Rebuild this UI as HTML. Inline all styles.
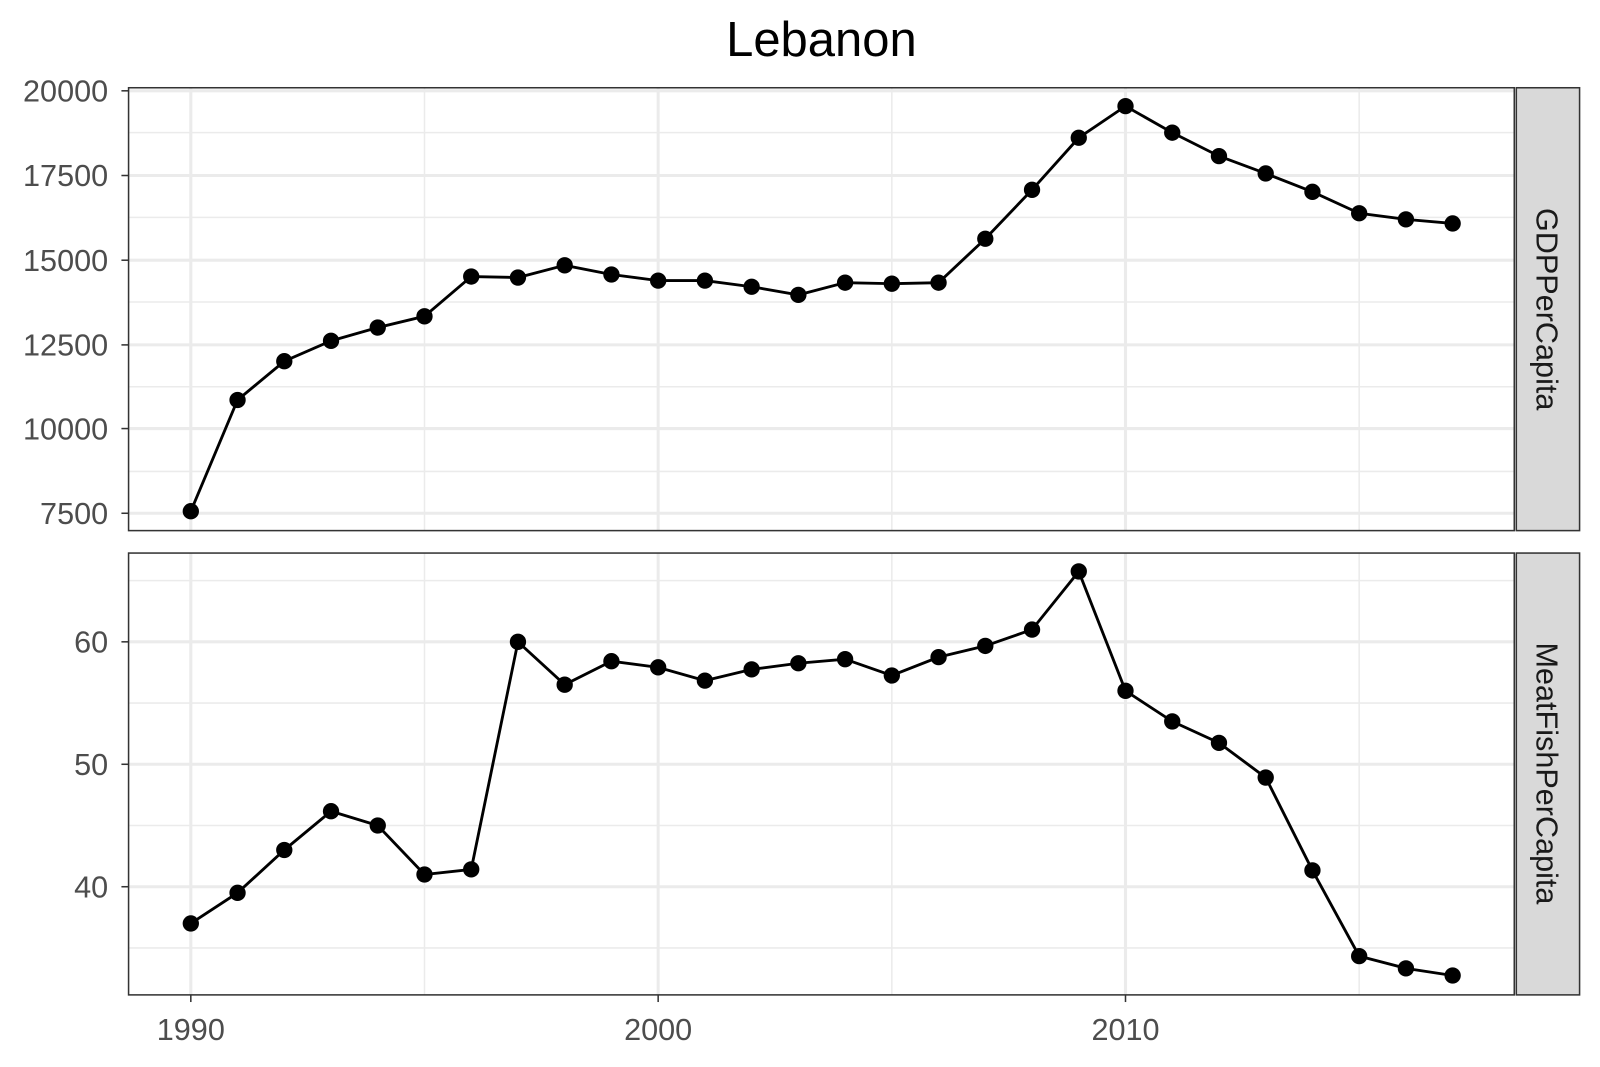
<!DOCTYPE html>
<html><head><meta charset="utf-8"><style>html,body{margin:0;padding:0;overflow:hidden;background:#fff}svg{display:block}</style></head><body>
<svg width="1600" height="1067" xmlns="http://www.w3.org/2000/svg" font-family="Liberation Sans, sans-serif">
<rect width="1600" height="1067" fill="#fff"/>
<g transform="scale(1.0204)">
<text x="805" y="55" font-size="48" text-anchor="middle" fill="#000">Lebanon</text>
<g stroke="#ebebeb" stroke-width="1.5">
<line x1="126" x2="1484" y1="130" y2="130"/><line x1="126" x2="1484" y1="213" y2="213"/><line x1="126" x2="1484" y1="296" y2="296"/><line x1="126" x2="1484" y1="379" y2="379"/><line x1="126" x2="1484" y1="462" y2="462"/>
<line x1="126" x2="1484" y1="569" y2="569"/><line x1="126" x2="1484" y1="689" y2="689"/><line x1="126" x2="1484" y1="809" y2="809"/><line x1="126" x2="1484" y1="929" y2="929"/>
<line x1="416" x2="416" y1="86" y2="520"/><line x1="874" x2="874" y1="86" y2="520"/><line x1="1332" x2="1332" y1="86" y2="520"/>
<line x1="416" x2="416" y1="542" y2="975"/><line x1="874" x2="874" y1="542" y2="975"/><line x1="1332" x2="1332" y1="542" y2="975"/>
</g>
<g stroke="#ebebeb" stroke-width="3">
<line x1="126" x2="1484" y1="89" y2="89"/><line x1="126" x2="1484" y1="172" y2="172"/><line x1="126" x2="1484" y1="255" y2="255"/><line x1="126" x2="1484" y1="338" y2="338"/><line x1="126" x2="1484" y1="420" y2="420"/><line x1="126" x2="1484" y1="503" y2="503"/>
<line x1="126" x2="1484" y1="629" y2="629"/><line x1="126" x2="1484" y1="749" y2="749"/><line x1="126" x2="1484" y1="869" y2="869"/>
<line x1="187" x2="187" y1="86" y2="520"/><line x1="645" x2="645" y1="86" y2="520"/><line x1="1103" x2="1103" y1="86" y2="520"/>
<line x1="187" x2="187" y1="542" y2="975"/><line x1="645" x2="645" y1="542" y2="975"/><line x1="1103" x2="1103" y1="542" y2="975"/>
</g>
<rect x="126" y="86" width="1358" height="434" fill="none" stroke="#333" stroke-width="1.5"/>
<rect x="126" y="542" width="1358" height="433" fill="none" stroke="#333" stroke-width="1.5"/>
<rect x="1486" y="86" width="62" height="434" fill="#d9d9d9" stroke="#333" stroke-width="1.5"/>
<rect x="1486" y="542" width="62" height="433" fill="#d9d9d9" stroke="#333" stroke-width="1.5"/>
<text transform="translate(1506,303) rotate(90)" font-size="30" text-anchor="middle" fill="#1a1a1a">GDPPerCapita</text>
<text transform="translate(1506,758) rotate(90)" font-size="30" text-anchor="middle" fill="#1a1a1a">MeatFishPerCapita</text>
<g font-size="30" fill="#4d4d4d" text-anchor="end">
<text x="106" y="99.5">20000</text><text x="106" y="182.5">17500</text><text x="106" y="265.5">15000</text><text x="106" y="348.5">12500</text><text x="106" y="430.5">10000</text><text x="106" y="513.5">7500</text>
<text x="106" y="639.5">60</text><text x="106" y="759.5">50</text><text x="106" y="879.5">40</text>
</g>
<g font-size="30" fill="#4d4d4d" text-anchor="middle">
<text x="187" y="1019">1990</text><text x="645" y="1019">2000</text><text x="1103" y="1019">2010</text>
</g>
<g stroke="#333" stroke-width="1.5">
<line x1="119" x2="126" y1="89" y2="89"/><line x1="119" x2="126" y1="172" y2="172"/><line x1="119" x2="126" y1="255" y2="255"/><line x1="119" x2="126" y1="338" y2="338"/><line x1="119" x2="126" y1="420" y2="420"/><line x1="119" x2="126" y1="503" y2="503"/>
<line x1="119" x2="126" y1="629" y2="629"/><line x1="119" x2="126" y1="749" y2="749"/><line x1="119" x2="126" y1="869" y2="869"/>
<line x1="187" x2="187" y1="975" y2="982"/><line x1="645" x2="645" y1="975" y2="982"/><line x1="1103" x2="1103" y1="975" y2="982"/>
</g>
<g id="d1"></g>
</g>
<script>
(function(){
var A=[501,392,354,334,321,310,271,272,260,269,275,275,281,289,277,278,277,234,186,135,104,130,153,170,188,209,215,219];
var B=[905,875,833,795,809,857,852,629,671,648,654,667,656,650,646,662,644,633,617,560,677,707,728,762,853,937,949,956];
var g=document.getElementById('d1');var ns='http://www.w3.org/2000/svg';
[A,B].forEach(function(a){var p=document.createElementNS(ns,'polyline');
p.setAttribute('points',a.map(function(y,i){return (187+45.8*i)+','+y;}).join(' '));
p.setAttribute('fill','none');p.setAttribute('stroke','#000');p.setAttribute('stroke-width','2.8');g.appendChild(p);
a.forEach(function(y,i){var c=document.createElementNS(ns,'circle');c.setAttribute('cx',187+45.8*i);c.setAttribute('cy',y);c.setAttribute('r','8');g.appendChild(c);});});
})();
</script>
</svg>
</body></html>
